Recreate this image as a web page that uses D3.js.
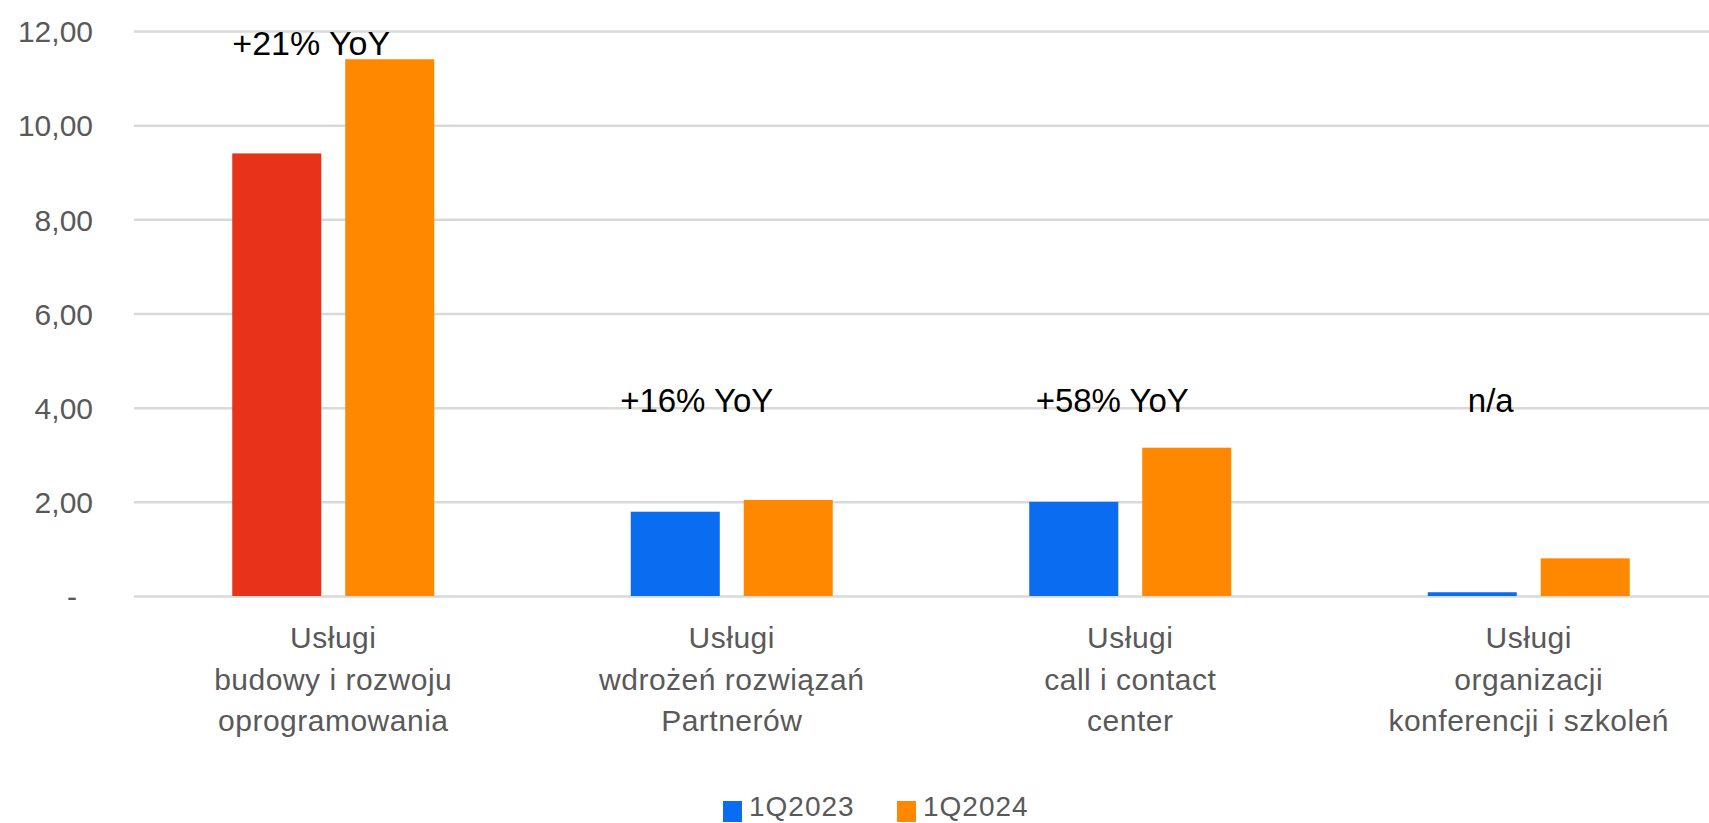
<!DOCTYPE html>
<html>
<head>
<meta charset="utf-8">
<script src="https://cdn.jsdelivr.net/npm/d3@7"></script>
<style>
  html, body { margin: 0; padding: 0; background: #fff; overflow: hidden; }
  .narrow { font-family: "Liberation Sans", Arial, sans-serif; }
</style>
</head>
<body>
<div id="chart"></div>
<script>
// chart data
var categories = [
  'Usługi\nbudowy i rozwoju\noprogramowania',
  'Usługi\nwdrożeń rozwiązań\nPartnerów',
  'Usługi\ncall i contact\ncenter',
  'Usługi\norganizacji\nkonferencji i szkoleń'
];
var seriesNames = ['1Q2023', '1Q2024'];
var values2023 = [9.40, 1.79, 2.00, 0.08];
var values2024 = [11.40, 2.04, 3.15, 0.80];
var yTicks = [0, 2, 4, 6, 8, 10, 12];
var annotations = ['+21% YoY', '+16% YoY', '+58% YoY', 'n/a'];

var width = 1709;
var height = 823;

var seriesColors = ['#0A6CF0', '#FF8800'];
var highlightColor = '#E8331A'; // first 1Q2023 bar is drawn red

// where the YoY notes sit (value level of the baseline, shift from group centre)
var annotLevel = [11.5, 3.9, 3.9, 3.9];
var annotShift = [-22, -35, -18, -38];

var svg = d3.select('#chart')
  .append('svg')
  .attr('width', width)
  .attr('height', height);

// scales
var x0 = d3.scaleBand()
  .domain(d3.range(categories.length))
  .range([134, 1728]);

var x1 = d3.scaleBand()
  .domain(seriesNames)
  .range([(x0.bandwidth() - 202) / 2, (x0.bandwidth() + 202) / 2])
  .paddingInner(0.212);

var y = d3.scaleLinear()
  .domain([0, 12])
  .range([596, 31]);

// y axis + gridlines
var yAxis = svg.append('g')
  .attr('transform', 'translate(134,0)')
  .call(d3.axisLeft(y)
    .tickValues(yTicks)
    .tickSize(-(1728 - 134))
    .tickPadding(41)
    .tickFormat(function (d) { return d === 0 ? '-' : d3.format('.2f')(d).replace('.', ','); }));

yAxis.select('.domain').remove();
yAxis.selectAll('.tick line')
  .attr('stroke', '#D9D9D9')
  .attr('stroke-width', 2.5);
yAxis.selectAll('.tick text')
  .attr('fill', '#595959')
  .style('font-family', '"Liberation Sans", Arial, sans-serif')
  .style('font-size', '30px')
  .attr('dy', '0.36em');
yAxis.selectAll('.tick text')
  .filter(function (d) { return d === 0; })
  .attr('x', -57);

// bars
var rows = categories.map(function (c, i) {
  return { idx: i, vals: [values2023[i], values2024[i]] };
});

var groups = svg.selectAll('.group')
  .data(rows)
  .enter().append('g')
  .attr('class', 'group')
  .attr('transform', function (d) { return 'translate(' + x0(d.idx) + ',0)'; });

groups.selectAll('rect')
  .data(function (d) {
    return d.vals.map(function (v, s) { return { idx: d.idx, s: s, value: v }; });
  })
  .enter().append('rect')
  .attr('x', function (d) { return x1(seriesNames[d.s]); })
  .attr('width', x1.bandwidth())
  .attr('y', function (d) { return y(d.value); })
  .attr('height', function (d) { return y(0) - y(d.value); })
  .attr('fill', function (d) {
    if (d.s === 0 && d.idx === 0) return highlightColor;
    return seriesColors[d.s];
  });

// YoY notes
svg.selectAll('.note')
  .data(annotations)
  .enter().append('text')
  .attr('class', 'note')
  .attr('x', function (d, i) { return x0(i) + x0.bandwidth() / 2 + annotShift[i]; })
  .attr('y', function (d, i) { return y(annotLevel[i]); })
  .attr('text-anchor', 'middle')
  .attr('fill', '#000')
  .style('font-family', '"Liberation Sans", Arial, sans-serif')
  .style('font-size', function (d, i) { return i === 0 ? '34px' : '33px'; })
  .text(function (d) { return d; });

// category labels
var catLabels = svg.selectAll('.cat')
  .data(categories)
  .enter().append('text')
  .attr('class', 'cat narrow')
  .attr('text-anchor', 'middle')
  .attr('fill', '#595959')
  .style('font-size', '30px')
  .style('letter-spacing', '0.5px');

catLabels.selectAll('tspan')
  .data(function (d, i) {
    return d.split('\n').map(function (line) { return { line: line, i: i }; });
  })
  .enter().append('tspan')
  .attr('x', function (d) { return x0(d.i) + x0.bandwidth() / 2; })
  .attr('y', function (d, k) { return 648 + k * 41.5; })
  .text(function (d) { return d.line; });

// legend
var legend = svg.selectAll('.legend')
  .data(seriesNames)
  .enter().append('g')
  .attr('class', 'legend')
  .attr('transform', function (d, i) { return 'translate(' + (723 + i * 174) + ',0)'; });

legend.append('rect')
  .attr('x', 0)
  .attr('y', 801)
  .attr('width', 19)
  .attr('height', 21)
  .attr('fill', function (d, i) { return seriesColors[i]; });

legend.append('text')
  .attr('class', 'narrow')
  .attr('x', 26)
  .attr('y', 816)
  .attr('fill', '#595959')
  .style('font-size', '28px')
  .style('letter-spacing', '1px')
  .text(function (d) { return d; });
</script>
</body>
</html>
